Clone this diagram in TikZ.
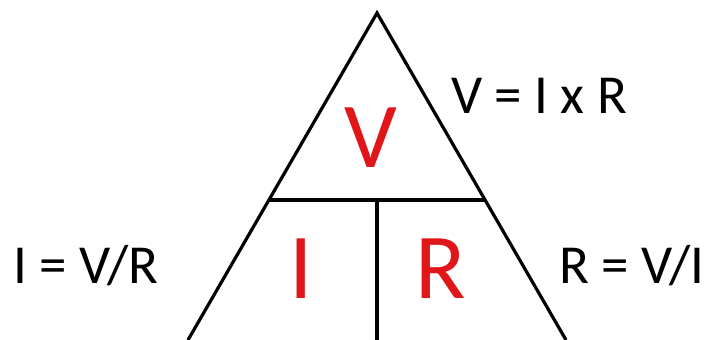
\documentclass[tikz,border=0pt]{standalone}
\usepackage{fontspec}
\setmainfont{Carlito}
\usetikzlibrary{calc}
\definecolor{ohmred}{RGB}{225,22,26}
\begin{document}
\begin{tikzpicture}[
    x=1pt, y=-1pt,
    % --- Styles ---
    % Outer sides of the triangle
    side line/.style={line width=3.2pt, line join=miter},
    % Cross bar and the middle split
    split line/.style={line width=4pt},
    % Big red letters inside the triangle
    letter node/.style={font=\fontsize{93}{93}\selectfont, text=ohmred, anchor=base, inner sep=0pt},
    % The three formulas round it
    rule node/.style={font=\fontsize{55}{55}\selectfont, anchor=base west, inner sep=0pt}
]

%================CONFIGURATION================
\def\barfrac{0.572} % where the cross bar cuts the sides
%=============================================

% Frame (the triangle runs out of the bottom edge)
\useasboundingbox (0,0) rectangle (710,340);
\clip (0,0) rectangle (710,340);

% --- Corner points ---
\coordinate (apex) at (377,13);
\coordinate (baseL) at (188,340);
\coordinate (baseR) at (566,340);
\coordinate (barL) at ($(apex)!\barfrac!(baseL)$);
\coordinate (barR) at ($(apex)!\barfrac!(baseR)$);
\coordinate (barC) at ($(barL)!0.5!(barR)$);
\coordinate (baseC) at (barC |- baseL);

% --- Triangle ---
\draw[side line] (baseL) -- (apex) -- (baseR);
\draw[split line] (barL) -- (barR);
\draw[split line] (barC) -- (baseC);

% --- Letters ---
\node[letter node] (V) at (371,167) {V};
\node[letter node] (I) at (301,298) {I};
\node[letter node] (R) at (441,298) {R};

% --- Formulas ---
\node[rule node] (Vrule) at (451,113) {V = I x R};
\node[rule node] (Irule) at (13,283) {I = V/R};
\node[rule node, anchor=base east] (Rrule) at (705,283) {R = V/I};

\end{tikzpicture}
\end{document}
